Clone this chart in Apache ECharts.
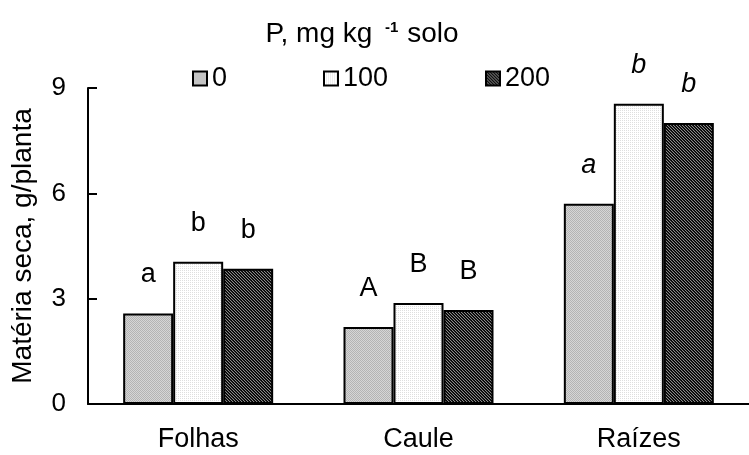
<!DOCTYPE html>
<html><head><meta charset="utf-8">
<script src="https://cdn.jsdelivr.net/npm/echarts@6/dist/echarts.min.js"></script>
<style>html,body{margin:0;padding:0;background:#fff}#c{width:749px;height:455px}</style>
</head><body><div id="c"></div>
<script>
const categories = ['Folhas', 'Caule', 'Raízes'];
const seriesNames = ['0', '100', '200'];
const values0 = [2.58, 2.19, 5.70];
const values100 = [4.05, 2.88, 8.55];
const values200 = [3.85, 2.68, 8.00];
const letters0 = ['a', 'A', 'a'];
const letters100 = ['b', 'B', 'b'];
const letters200 = ['b', 'B', 'b'];
const italicCat = [false, false, true];
const yTicks = [0, 3, 6, 9];

function pattern(kind) {
  const c = document.createElement('canvas');
  const ctx = c.getContext('2d');
  if (kind === 0) {
    c.width = 2; c.height = 2;
    ctx.fillStyle = '#d6d6d6'; ctx.fillRect(0,0,2,2);
    ctx.fillStyle = '#b4b4b4'; ctx.fillRect(0,0,1,1); ctx.fillRect(1,1,1,1);
  } else if (kind === 1) {
    c.width = 2; c.height = 2;
    ctx.fillStyle = '#ffffff'; ctx.fillRect(0,0,2,2);
    ctx.fillStyle = '#dedede'; ctx.fillRect(0,0,1,1);
  } else {
    c.width = 3; c.height = 3;
    ctx.fillStyle = '#8a8a8a'; ctx.fillRect(0,0,3,3);
    ctx.fillStyle = '#202020';
    for (let i = 0; i < 3; i++) ctx.fillRect(i, i, 1, 1);
    ctx.fillStyle = '#000000';
    for (let i = 0; i < 3; i++) ctx.fillRect((i+1)%3, i, 1, 1);
  }
  return {image: c, repeat: 'repeat'};
}

const allVals = [values0, values100, values200];
const allLetters = [letters0, letters100, letters200];
const FONT = 'Liberation Sans, Arial, sans-serif';
const FS = 27;

const series = seriesNames.map((n, s) => ({
  name: n,
  type: 'bar',
  barWidth: 50,
  barGap: '0%',
  itemStyle: {color: pattern(s), borderColor: '#000', borderWidth: 2},
  data: allVals[s].map((v, i) => ({
    value: v,
    label: {
      show: true, position: 'top', distance: 25,
      formatter: allLetters[s][i],
      fontSize: FS, color: '#000', fontFamily: FONT,
      fontStyle: italicCat[i] ? 'italic' : 'normal'
    }
  }))
}));

const legendLeft = [187, 318, 480];
const chart = echarts.init(document.getElementById('c'), null, {renderer: 'canvas'});
chart.setOption({
  animation: false,
  backgroundColor: '#fff',
  title: {
    text: '{t|P, mg kg }{s|-1}{t| solo}',
    left: 357, top: 15, textAlign: 'center',
    textStyle: {
      rich: {
        t: {fontSize: 28, fontFamily: FONT, color: '#000', fontWeight: 'normal'},
        s: {fontSize: 15, fontFamily: FONT, color: '#000', verticalAlign: 'top', padding: [0,1,12,5]}
      }
    }
  },
  legend: seriesNames.map((n, i) => ({
    data: [n], left: legendLeft[i], top: 60,
    itemWidth: 14, itemHeight: 14, itemGap: 0,
    icon: 'rect',
    textStyle: {fontSize: FS, fontFamily: FONT, color: '#000', padding: [0,0,0,0]},
    selectedMode: false
  })),
  grid: {left: 88, top: 88, width: 669, height: 316, containLabel: false},
  xAxis: {
    type: 'category', data: categories,
    axisLine: {lineStyle: {color: '#000', width: 2}},
    axisTick: {show: false},
    axisLabel: {fontSize: FS, fontFamily: FONT, color: '#000', margin: 22}
  },
  yAxis: {
    type: 'value', min: yTicks[0], max: yTicks[yTicks.length-1], interval: 3,
    name: 'Matéria seca, g/planta', nameLocation: 'middle', nameGap: 51,
    nameTextStyle: {fontSize: 28, fontFamily: FONT, color: '#000'},
    axisLine: {show: true, lineStyle: {color: '#000', width: 2}},
    axisTick: {show: true, inside: true, length: 9, lineStyle: {color: '#000', width: 2}},
    axisLabel: {fontSize: 26, fontFamily: FONT, color: '#000', margin: 22},
    splitLine: {show: false}
  },
  series: series
});
</script></body></html>
